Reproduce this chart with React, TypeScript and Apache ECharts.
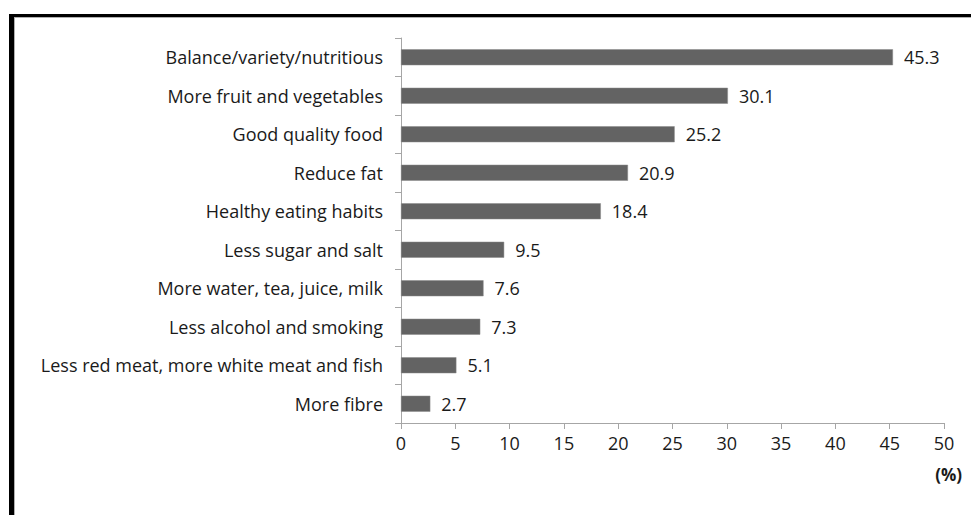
import React, { useEffect, useRef } from "react";
import * as echarts from "echarts";

const categories = [
  "Balance/variety/nutritious",
  "More fruit and vegetables",
  "Good quality food",
  "Reduce fat",
  "Healthy eating habits",
  "Less sugar and salt",
  "More water, tea, juice, milk",
  "Less alcohol and smoking",
  "Less red meat, more white meat and fish",
  "More fibre",
];
const values = [45.3, 30.1, 25.2, 20.9, 18.4, 9.5, 7.6, 7.3, 5.1, 2.7];
const xTicks = [0, 5, 10, 15, 20, 25, 30, 35, 40, 45, 50];
const unitLabel = "(%)";

const FONT = "Open Sans";

export default function App() {
  const ref = useRef<HTMLDivElement>(null);
  useEffect(() => {
    const chart = echarts.init(ref.current!, undefined, { renderer: "svg" });
    chart.setOption({
      animation: false,
      backgroundColor: "#ffffff",
      textStyle: { fontFamily: FONT },
      grid: { left: 401, right: 27, top: 38, bottom: 92, containLabel: false },
      xAxis: {
        type: "value",
        min: xTicks[0],
        max: xTicks[xTicks.length - 1],
        interval: 5,
        splitLine: { show: false },
        axisLine: { show: true, lineStyle: { color: "#a6a6a6", width: 1 } },
        axisTick: { show: true, length: 6, lineStyle: { color: "#a6a6a6" } },
        axisLabel: { color: "#1a1a1a", fontSize: 18, fontFamily: FONT, margin: 11 },
      },
      yAxis: {
        type: "category",
        inverse: true,
        data: categories,
        axisLine: { show: true, lineStyle: { color: "#a6a6a6", width: 1 } },
        axisTick: { show: true, length: 6, lineStyle: { color: "#a6a6a6" } },
        axisLabel: { color: "#1a1a1a", fontSize: 18, fontFamily: FONT, margin: 18 },
      },
      series: [
        {
          type: "bar",
          data: values,
          barWidth: 16,
          itemStyle: { color: "#636363", borderColor: "#8a8a8a", borderWidth: 0.5 },
          label: {
            show: true,
            position: "right",
            distance: 11,
            color: "#1a1a1a",
            fontSize: 18,
            fontFamily: FONT,
            formatter: (p: any) => p.value.toFixed(1),
          },
        },
      ],
      graphic: [
        { type: "rect", left: 9, top: 14, shape: { width: 5, height: 501 }, style: { fill: "#000" } },
        { type: "rect", left: 9, top: 14, shape: { width: 962, height: 3 }, style: { fill: "#000" } },
        { type: "rect", left: 14, top: 17, shape: { width: 957, height: 1 }, style: { fill: "#b0b0b0" } },
        { type: "rect", left: 14, top: 17, shape: { width: 1, height: 498 }, style: { fill: "#b0b0b0" } },
        {
          type: "text",
          right: 9,
          top: 466,
          style: { text: unitLabel, fontFamily: FONT, fontSize: 17, fontWeight: "bold", fill: "#1a1a1a" },
        },
      ],
    });
    return () => chart.dispose();
  }, []);
  return (
    <div
      ref={ref}
      style={{ position: "fixed", left: 0, top: 0, width: 971, height: 515 }}
    />
  );
}
